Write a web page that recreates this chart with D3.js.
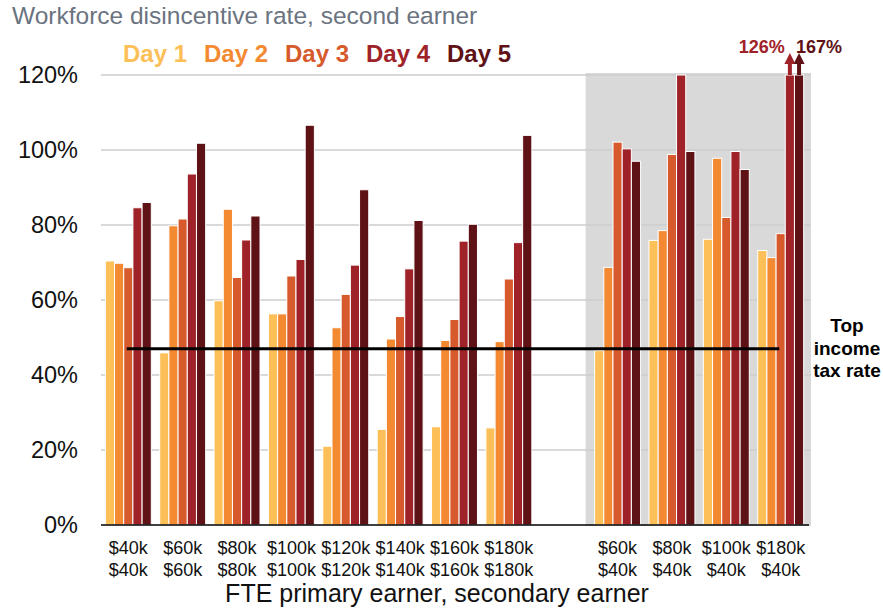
<!DOCTYPE html>
<html>
<head>
<meta charset="utf-8">
<script src="https://cdn.jsdelivr.net/npm/d3@7"></script>
<style>
  body { margin: 0; background: #fff; }
  svg { display: block; font-family: "Liberation Sans", Arial, sans-serif; }
</style>
</head>
<body>
<div id="chart"></div>
<script>
// categories: FTE primary earner / secondary earner
var primaryEarner = ["$40k", "$60k", "$80k", "$100k", "$120k", "$140k", "$160k", "$180k", "$60k", "$80k", "$100k", "$180k"];
var secondaryEarner = ["$40k", "$60k", "$80k", "$100k", "$120k", "$140k", "$160k", "$180k", "$40k", "$40k", "$40k", "$40k"];

// workforce disincentive rate (%) by day of care
var day1 = [70.4, 45.9, 59.8, 56.3, 21.0, 25.5, 26.2, 25.9, 46.5, 75.9, 76.2, 73.2];
var day2 = [69.8, 79.8, 84.2, 56.3, 52.6, 49.6, 49.2, 48.9, 68.7, 78.5, 97.8, 71.3];
var day3 = [68.6, 81.6, 66.0, 66.4, 61.5, 55.6, 54.8, 65.6, 102.1, 98.8, 82.0, 77.7];
var day4 = [84.6, 93.6, 76.0, 70.8, 69.3, 68.3, 75.7, 75.3, 100.3, 120.0, 99.6, 126];
var day5 = [86.0, 101.8, 82.4, 106.6, 89.4, 81.2, 80.2, 103.9, 97.0, 99.6, 94.8, 167];

var dayNames = ["Day 1", "Day 2", "Day 3", "Day 4", "Day 5"];
var dayColors = ["#fdbf58", "#f38a32", "#d65a2b", "#9e2228", "#5f1216"];
var yTicks = [0, 20, 40, 60, 80, 100, 120];
var topTaxRate = 47;
var firstSecondaryGroup = 8; // groups from here sit on the grey panel

var width = 883, height = 609;
var yMax = 120;

var series = [day1, day2, day3, day4, day5];

// one empty slot separates the two sets of households
function slotOf(i) { return i < firstSecondaryGroup ? i : i + 1; }

var svg = d3.select("#chart").append("svg")
  .attr("width", width)
  .attr("height", height);

var x = d3.scaleBand()
  .domain(d3.range(primaryEarner.length + 1))
  .range([101, 808])
  .paddingInner(0.155)
  .paddingOuter(0.08);

var xDay = d3.scaleBand()
  .domain(d3.range(dayNames.length))
  .range([0, x.bandwidth()]);

var y = d3.scaleLinear().domain([0, yMax]).range([525, 75]);

// grey panel behind the second set
svg.append("rect")
  .attr("x", x(slotOf(firstSecondaryGroup)) - 9)
  .attr("y", y(yMax) - 2)
  .attr("width", 811 - (x(slotOf(firstSecondaryGroup)) - 9))
  .attr("height", y(0) - y(yMax) + 3)
  .attr("fill", "#d9d9d9");

// gridlines
svg.append("g")
  .selectAll("line")
  .data(yTicks.filter(function(d) { return d > 0; }))
  .join("line")
  .attr("x1", 101)
  .attr("x2", 811)
  .attr("y1", function(d) { return y(d); })
  .attr("y2", function(d) { return y(d); })
  .attr("stroke", "#cdcdcd")
  .attr("stroke-width", 1.5);

// y axis labels
svg.append("g")
  .selectAll("text")
  .data(yTicks)
  .join("text")
  .attr("x", 78)
  .attr("y", function(d) { return y(d); })
  .attr("dy", "0.36em")
  .attr("text-anchor", "end")
  .attr("font-size", 23.5)
  .attr("fill", "#111")
  .text(function(d) { return d + "%"; });

// bars
var groups = svg.append("g")
  .selectAll("g")
  .data(primaryEarner.map(function(d, i) { return i; }))
  .join("g")
  .attr("transform", function(i) { return "translate(" + x(slotOf(i)) + ",0)"; });

groups.selectAll("rect")
  .data(function(i) {
    return series.map(function(s, k) { return { day: k, value: s[i] }; });
  })
  .join("rect")
  .attr("x", function(d) { return xDay(d.day); })
  .attr("width", xDay.bandwidth())
  .attr("y", function(d) { return y(Math.min(d.value, yMax)); })
  .attr("height", function(d) { return y(0) - y(Math.min(d.value, yMax)); })
  .attr("fill", function(d) { return dayColors[d.day]; })
  .attr("stroke", "#fff")
  .attr("stroke-width", 1);

// arrows + labels for values off the scale
var overflow = [];
primaryEarner.forEach(function(p, i) {
  series.forEach(function(s, k) {
    if (s[i] > yMax) overflow.push({ group: i, day: k, value: s[i] });
  });
});

var arrows = svg.append("g")
  .selectAll("g")
  .data(overflow)
  .join("g")
  .attr("transform", function(d) {
    return "translate(" + (x(slotOf(d.group)) + xDay(d.day) + xDay.bandwidth() / 2) + "," + y(yMax) + ")";
  });

arrows.append("rect")
  .attr("x", -2)
  .attr("y", -13)
  .attr("width", 4)
  .attr("height", 13)
  .attr("fill", function(d) { return dayColors[d.day]; });

arrows.append("path")
  .attr("d", "M-5.5,-11 L0,-22 L5.5,-11 Z")
  .attr("fill", function(d) { return dayColors[d.day]; });

arrows.append("text")
  .attr("x", function(d, j) { return j === 0 ? -5 : -3; })
  .attr("y", -22)
  .attr("text-anchor", function(d, j) { return j === 0 ? "end" : "start"; })
  .attr("font-size", 18)
  .attr("font-weight", "bold")
  .attr("fill", function(d) { return dayColors[d.day]; })
  .text(function(d) { return d.value + "%"; });

// x axis baseline
svg.append("line")
  .attr("x1", 101)
  .attr("x2", 809)
  .attr("y1", y(0))
  .attr("y2", y(0))
  .attr("stroke", "#000")
  .attr("stroke-width", 1.5);

// top income tax rate line
svg.append("line")
  .attr("x1", x(slotOf(0)) + xDay(2) + 3)
  .attr("x2", x(slotOf(primaryEarner.length - 1)) + xDay(3) - 6)
  .attr("y1", y(topTaxRate))
  .attr("y2", y(topTaxRate))
  .attr("stroke", "#000")
  .attr("stroke-width", 3);

svg.append("text")
  .attr("x", 847)
  .attr("y", 332)
  .attr("text-anchor", "middle")
  .attr("font-size", 19)
  .attr("font-weight", "bold")
  .attr("fill", "#000")
  .selectAll("tspan")
  .data(["Top", "income", "tax rate"])
  .join("tspan")
  .attr("x", 847)
  .attr("dy", function(d, i) { return i === 0 ? 0 : 22.5; })
  .text(function(d) { return d; });

// category labels
var labels = svg.append("g")
  .selectAll("text")
  .data(primaryEarner.map(function(d, i) { return i; }))
  .join("text")
  .attr("text-anchor", "middle")
  .attr("font-size", 18)
  .attr("fill", "#111");

labels.append("tspan")
  .attr("x", function(i) { return x(slotOf(i)) + x.bandwidth() / 2; })
  .attr("y", 554)
  .text(function(i) { return primaryEarner[i]; });

labels.append("tspan")
  .attr("x", function(i) { return x(slotOf(i)) + x.bandwidth() / 2; })
  .attr("y", 576)
  .text(function(i) { return secondaryEarner[i]; });

svg.append("text")
  .attr("x", 437)
  .attr("y", 602)
  .attr("text-anchor", "middle")
  .attr("font-size", 25)
  .attr("fill", "#111")
  .text("FTE primary earner, secondary earner");

// title
svg.append("text")
  .attr("x", 12)
  .attr("y", 24)
  .attr("font-size", 24.5)
  .attr("fill", "#6b7380")
  .text("Workforce disincentive rate, second earner");

// legend
svg.append("g")
  .selectAll("text")
  .data(dayNames)
  .join("text")
  .attr("x", function(d, i) { return 123 + i * 81; })
  .attr("y", 62)
  .attr("font-size", 24)
  .attr("font-weight", "bold")
  .attr("fill", function(d, i) { return dayColors[i]; })
  .text(function(d) { return d; });
</script>
</body>
</html>
